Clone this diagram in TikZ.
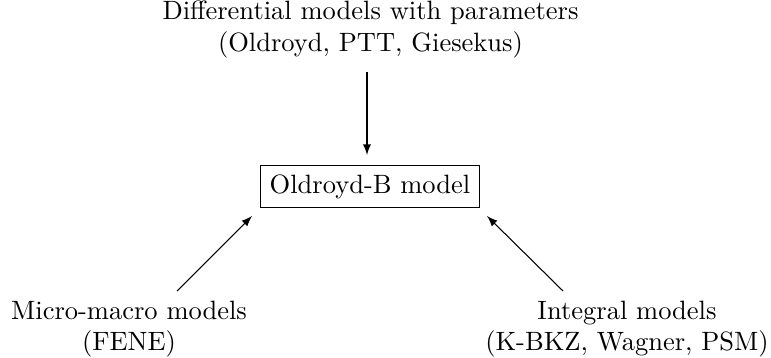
\documentclass[tikz,border=0pt]{standalone}
\usetikzlibrary{arrows}
\begin{document}
\begin{tikzpicture}[x=0.3774pt,y=-0.3774pt,
  label/.style={align=center,inner sep=0pt},
  modelbox/.style={draw,inner sep=3.33pt},
  conn/.style={-latex}]
\useasboundingbox (0,0) rectangle (771,358);
\node[label,anchor=north] (diff) at (370.5,0) {Differential models with parameters\\(Oldroyd, PTT, Giesekus)};
\node[modelbox] (ob) at (370,186.5) {Oldroyd-B model};
\node[label,anchor=south] (micro) at (129,358) {Micro-macro models\\(FENE)};
\node[label,anchor=south] (integ) at (627,358) {Integral models\\(K-BKZ, Wagner, PSM)};
\coordinate (a1) at (367,72);
\coordinate (a2) at (367,155);
\coordinate (b1) at (177,291);
\coordinate (b2) at (252,216);
\coordinate (c1) at (563,291);
\coordinate (c2) at (487,216);
\draw[conn] (a1) -- (a2);
\draw[conn] (b1) -- (b2);
\draw[conn] (c1) -- (c2);
\end{tikzpicture}
\end{document}
